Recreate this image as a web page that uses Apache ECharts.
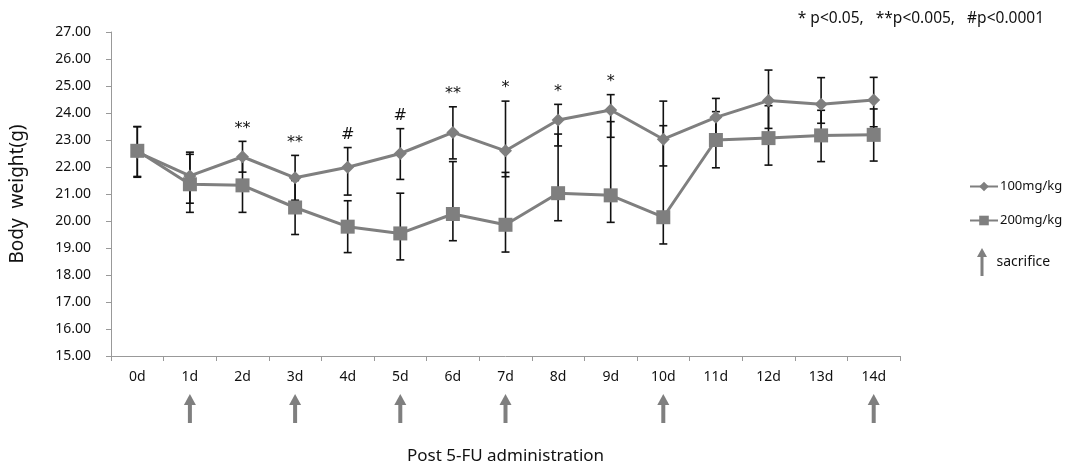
<!DOCTYPE html>
<html>
<head>
<meta charset="utf-8">
<script src="https://cdn.jsdelivr.net/npm/echarts@6/dist/echarts.min.js"></script>
<style>html,body{margin:0;padding:0;background:#fff}#c{width:1079px;height:468px}</style>
</head>
<body>
<div id="c"></div>
<script>
const categories = ['0d','1d','2d','3d','4d','5d','6d','7d','8d','9d','10d','11d','12d','13d','14d'];
const yTicks = [15,16,17,18,19,20,21,22,23,24,25,26,27];

const mean100 = [22.55, 21.67, 22.38, 21.60, 21.99, 22.50, 23.28, 22.60, 23.74, 24.11, 23.03, 23.84, 24.46, 24.32, 24.48];
const high100 = [23.49, 22.55, 22.95, 22.43, 22.72, 23.42, 24.23, 24.44, 24.32, 24.68, 24.44, 24.54, 25.59, 25.31, 25.32];
const low100  = [21.62, 20.66, 21.81, 20.77, 20.96, 21.54, 22.30, 21.64, 22.78, 23.10, 22.04, 23.14, 23.43, 23.62, 23.49];

const mean200 = [22.60, 21.36, 21.32, 20.50, 19.79, 19.54, 20.26, 19.86, 21.03, 20.95, 20.14, 23.00, 23.07, 23.17, 23.19];
const high200 = [23.50, 22.47, 22.32, 21.50, 20.75, 21.03, 22.20, 21.80, 23.22, 23.68, 23.53, 24.05, 24.27, 24.10, 24.15];
const low200  = [21.65, 20.32, 20.32, 19.50, 18.83, 18.56, 19.27, 18.85, 20.01, 19.95, 19.15, 21.97, 22.07, 22.20, 22.22];

const significance = ['', '', '**', '**', '#', '#', '**', '*', '*', '*', '', '', '', '', ''];
const sacrificeDays = [1, 3, 5, 7, 10, 14];

const FONT = '"Noto Sans", "DejaVu Sans", sans-serif';
const GREY = '#7f7f7f';

function errData(lo, hi, labels) {
  return categories.map((c, i) => [i, lo[i], hi[i], labels ? labels[i] : '']);
}

function renderErr(params, api) {
  const i = api.value(0);
  const lo = api.coord([i, api.value(1)]);
  const hi = api.coord([i, api.value(2)]);
  const cw = 4;
  const st = { stroke: '#111', lineWidth: 1.6 };
  const children = [
    { type: 'line', shape: { x1: lo[0], y1: lo[1], x2: hi[0], y2: hi[1] }, style: st },
    { type: 'line', shape: { x1: hi[0] - cw, y1: hi[1], x2: hi[0] + cw, y2: hi[1] }, style: st },
    { type: 'line', shape: { x1: lo[0] - cw, y1: lo[1], x2: lo[0] + cw, y2: lo[1] }, style: st }
  ];
  const lbl = api.value(3);
  if (lbl) {
    children.push({ type: 'text', style: { text: lbl, x: hi[0], y: hi[1] - 5, align: 'center', verticalAlign: 'bottom',
      font: '16px "DejaVu Sans", sans-serif', fill: '#111' } });
  }
  return { type: 'group', children };
}

const arrowPath = 'path://M5,0 L10,9 L6.5,9 L6.5,28 L3.5,28 L3.5,9 L0,9 Z';

function renderArrow(params, api) {
  const i = api.value(0);
  const p = api.coord([i, 15]);
  const x = p[0], y0 = p[1] + 38;
  return {
    type: 'group',
    children: [
      { type: 'polygon', shape: { points: [[x, y0], [x + 6, y0 + 11], [x - 6, y0 + 11]] }, style: { fill: GREY } },
      { type: 'rect', shape: { x: x - 2, y: y0 + 8, width: 4, height: 21 }, style: { fill: GREY } }
    ]
  };
}

const chart = echarts.init(document.getElementById('c'), null, { renderer: 'canvas' });
chart.setOption({
  animation: false,
  textStyle: { fontFamily: FONT },
  title: {
    text: '* p<0.05,   **p<0.005,   #p<0.0001',
    right: 30, top: 6,
    textStyle: { fontSize: 15.5, fontWeight: 'normal', color: '#111', fontFamily: FONT }
  },
  legend: [
    {
      data: ['100mg/kg', '200mg/kg'],
      orient: 'vertical', left: 964, top: 175,
      itemWidth: 28, itemHeight: 12, itemGap: 21,
      textStyle: { fontSize: 13, color: '#111', fontFamily: FONT, padding: [0, 0, 0, -3] }
    },
    {
      data: [{ name: 'sacrifice', icon: arrowPath }],
      orient: 'vertical', left: 972, top: 243,
      itemWidth: 11, itemHeight: 28,
      textStyle: { fontSize: 14, color: '#111', fontFamily: FONT, padding: [0, 0, 0, 4] }
    }
  ],
  grid: { left: 111, right: 179, top: 32, bottom: 112, containLabel: false, outerBoundsMode: 'none' },
  xAxis: {
    type: 'category',
    data: categories,
    boundaryGap: true,
    name: 'Post 5-FU administration',
    nameLocation: 'middle',
    nameGap: 92,
    nameTextStyle: { fontSize: 17, color: '#111', fontFamily: FONT },
    axisLine: { lineStyle: { color: '#999', width: 1 } },
    axisTick: { show: true, length: 5, lineStyle: { color: '#999' } },
    axisLabel: { fontSize: 14, color: '#111', margin: 14, fontFamily: FONT }
  },
  yAxis: {
    type: 'value',
    min: yTicks[0], max: yTicks[yTicks.length - 1], interval: 1,
    name: 'Body  weight(g)',
    nameLocation: 'middle',
    nameGap: 84,
    nameTextStyle: { fontSize: 19, color: '#111', fontFamily: FONT },
    axisLine: { show: true, lineStyle: { color: '#999', width: 1 } },
    axisTick: { show: true, length: 5, lineStyle: { color: '#999' } },
    splitLine: { show: false },
    axisLabel: { fontSize: 14, color: '#111', margin: 20, fontFamily: FONT, formatter: v => v.toFixed(2) }
  },
  series: [
    { type: 'custom', name: 'err200', renderItem: renderErr, data: errData(low200, high200), z: 2, silent: true },
    { type: 'custom', name: 'err100', renderItem: renderErr, data: errData(low100, high100, significance), z: 2, silent: true },
    {
      type: 'line', name: '100mg/kg', data: mean100, z: 4,
      symbol: 'diamond', symbolSize: 13,
      lineStyle: { color: GREY, width: 3 }, itemStyle: { color: GREY }, color: GREY
    },
    {
      type: 'line', name: '200mg/kg', data: mean200, z: 3,
      symbol: 'rect', symbolSize: 14,
      lineStyle: { color: GREY, width: 3 }, itemStyle: { color: GREY }, color: GREY
    },
    {
      type: 'custom', name: 'sacrifice', renderItem: renderArrow, clip: false,
      data: sacrificeDays.map(d => [d]), itemStyle: { color: GREY }, color: GREY, silent: true
    }
  ]
});
</script>
</body>
</html>
